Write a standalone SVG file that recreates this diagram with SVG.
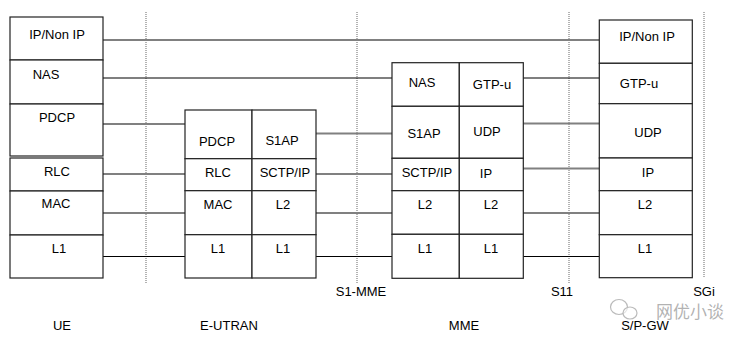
<svg xmlns="http://www.w3.org/2000/svg" width="749" height="346" viewBox="0 0 749 346">
<style>
.b{fill:#fff;stroke:#222;stroke-width:1.2}
.t{font-family:"Liberation Sans",Arial,sans-serif;font-size:13px;fill:#000;text-anchor:middle}
.lk{stroke:#000;stroke-width:1.2;fill:none}
.lg{stroke:#808080;stroke-width:2;fill:none}
.d{stroke:#9a9a9a;stroke-width:1.5;stroke-dasharray:1 1;fill:none}
.wm{font-family:"Noto Sans CJK SC",sans-serif;font-size:17px;fill:#999;fill-opacity:0.75}
</style>
<rect width="749" height="346" fill="#fff"/>
<g id="boundaries">
<line class="d" x1="146" y1="12" x2="146" y2="284"/>
<line class="d" x1="357" y1="12" x2="357" y2="284"/>
<line class="d" x1="569" y1="12" x2="569" y2="284"/>
<line class="d" x1="704" y1="12" x2="704" y2="277"/>
</g>
<g id="connectors">
<line class="lg" x1="103" y1="40" x2="599" y2="40"/>
<line class="lk" x1="103" y1="78" x2="392" y2="78"/>
<line class="lg" x1="103" y1="124" x2="185" y2="124"/>
<line class="lg" x1="103" y1="174" x2="185" y2="174"/>
<line class="lg" x1="103" y1="213" x2="185" y2="213"/>
<line class="lk" x1="103" y1="256.5" x2="185" y2="256.5"/>
<line class="lg" x1="316" y1="133.5" x2="392" y2="133.5"/>
<line class="lg" x1="316" y1="174" x2="392" y2="174"/>
<line class="lg" x1="316" y1="213" x2="392" y2="213"/>
<line class="lk" x1="316" y1="256.5" x2="392" y2="256.5"/>
<line class="lk" x1="523" y1="78" x2="599" y2="78"/>
<line class="lg" x1="523" y1="123.5" x2="599" y2="123.5"/>
<line class="lg" x1="523" y1="168.5" x2="599" y2="168.5"/>
<line class="lg" x1="523" y1="213" x2="599" y2="213"/>
<line class="lk" x1="523" y1="256.5" x2="599" y2="256.5"/>
</g>
<g id="ue">
<rect class="b" x="10" y="17" width="93" height="43"/>
<rect class="b" x="10" y="60" width="93" height="44"/>
<rect class="b" x="10" y="104" width="93" height="52"/>
<rect class="b" x="10" y="158" width="93" height="33"/>
<rect class="b" x="10" y="191" width="93" height="44"/>
<rect class="b" x="10" y="235" width="93" height="43"/>
<text class="t" x="57" y="39">IP/Non IP</text>
<text class="t" x="46" y="79">NAS</text>
<text class="t" x="57" y="122">PDCP</text>
<text class="t" x="57" y="176">RLC</text>
<text class="t" x="56" y="208">MAC</text>
<text class="t" x="59" y="253">L1</text>
</g>
<g id="enb">
<rect class="b" x="185" y="110" width="67" height="48.7"/>
<rect class="b" x="252" y="110" width="64" height="48.7"/>
<rect class="b" x="185" y="158.7" width="67" height="32"/>
<rect class="b" x="252" y="158.7" width="64" height="32"/>
<rect class="b" x="185" y="190.7" width="67" height="44"/>
<rect class="b" x="252" y="190.7" width="64" height="44"/>
<rect class="b" x="185" y="234.7" width="67" height="43.3"/>
<rect class="b" x="252" y="234.7" width="64" height="43.3"/>
<text class="t" x="217" y="145.5">PDCP</text>
<text class="t" x="282" y="145">S1AP</text>
<text class="t" x="218" y="176.5">RLC</text>
<text class="t" x="285" y="176.5">SCTP/IP</text>
<text class="t" x="218" y="209">MAC</text>
<text class="t" x="283" y="209">L2</text>
<text class="t" x="218" y="253">L1</text>
<text class="t" x="283" y="253">L1</text>
</g>
<g id="mme">
<rect class="b" x="392" y="62.7" width="67.3" height="43.6"/>
<rect class="b" x="459.3" y="62.7" width="64" height="43.6"/>
<rect class="b" x="392" y="106.3" width="67.3" height="52"/>
<rect class="b" x="459.3" y="106.3" width="64" height="52"/>
<rect class="b" x="392" y="158.3" width="67.3" height="32.4"/>
<rect class="b" x="459.3" y="158.3" width="64" height="32.4"/>
<rect class="b" x="392" y="190.7" width="67.3" height="43.6"/>
<rect class="b" x="459.3" y="190.7" width="64" height="43.6"/>
<rect class="b" x="392" y="234.3" width="67.3" height="44"/>
<rect class="b" x="459.3" y="234.3" width="64" height="44"/>
<text class="t" x="422" y="86.5">NAS</text>
<text class="t" x="492" y="89">GTP-u</text>
<text class="t" x="424" y="138">S1AP</text>
<text class="t" x="487" y="135.5">UDP</text>
<text class="t" x="427" y="177">SCTP/IP</text>
<text class="t" x="486" y="178">IP</text>
<text class="t" x="425" y="209">L2</text>
<text class="t" x="491" y="209">L2</text>
<text class="t" x="425" y="253">L1</text>
<text class="t" x="491" y="253">L1</text>
</g>
<g id="sgw">
<rect class="b" x="599.3" y="20" width="93" height="43.3"/>
<rect class="b" x="599.3" y="63.3" width="93" height="40.4"/>
<rect class="b" x="599.3" y="103.7" width="93" height="54.3"/>
<rect class="b" x="599.3" y="158" width="93" height="32.7"/>
<rect class="b" x="599.3" y="190.7" width="93" height="44"/>
<rect class="b" x="599.3" y="234.7" width="93" height="43"/>
<text class="t" x="647" y="40.5">IP/Non IP</text>
<text class="t" x="639" y="88">GTP-u</text>
<text class="t" x="648" y="137">UDP</text>
<text class="t" x="648" y="177">IP</text>
<text class="t" x="645" y="209">L2</text>
<text class="t" x="645" y="253">L1</text>
</g>
<g id="labels">
<text class="t" x="361" y="296">S1-MME</text>
<text class="t" x="562" y="296">S11</text>
<text class="t" x="704" y="296">SGi</text>
<text class="t" x="62" y="330">UE</text>
<text class="t" x="229" y="330">E-UTRAN</text>
<text class="t" x="464" y="330">MME</text>
<text class="t" x="645" y="330">S/P-GW</text>
</g>
<g id="watermark">
<ellipse cx="619" cy="307" rx="8.5" ry="7.5" fill="none" stroke="#bbb" stroke-width="1.2"/>
<ellipse cx="630" cy="313" rx="7" ry="6" fill="#fff" fill-opacity="0.6" stroke="#bbb" stroke-width="1.2"/>
<text class="wm" x="656" y="317.5">网优小谈</text>
</g>
</svg>
